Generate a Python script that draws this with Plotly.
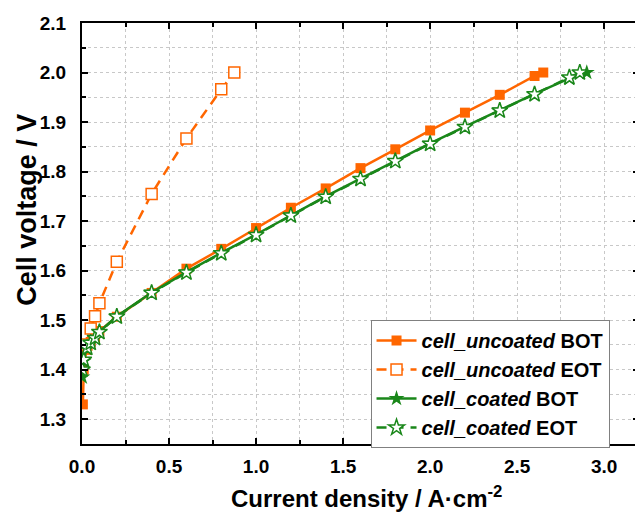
import plotly.graph_objects as go

# Data
unc_bot_x = [0.005, 0.01, 0.025, 0.05, 0.075, 0.1, 0.2, 0.4, 0.6, 0.8, 1.0, 1.2, 1.4, 1.6, 1.8, 2.0, 2.2, 2.4, 2.6, 2.65]
unc_bot_y = [1.33, 1.40, 1.44, 1.456, 1.466, 1.478, 1.507, 1.555, 1.604, 1.644, 1.686, 1.727, 1.766, 1.807, 1.845, 1.883, 1.919, 1.955, 1.993, 2.0]

unc_eot_x = [0.025, 0.05, 0.075, 0.1, 0.2, 0.4, 0.6, 0.8, 0.875]
unc_eot_y = [1.451, 1.483, 1.508, 1.534, 1.618, 1.755, 1.867, 1.966, 2.0]

coat_bot_x = [0.002, 0.01, 0.025, 0.05, 0.075, 0.1, 0.2, 0.4, 0.6, 0.8, 1.0, 1.2, 1.4, 1.6, 1.8, 2.0, 2.2, 2.4, 2.6, 2.8, 2.9]
coat_bot_y = [1.385, 1.417, 1.443, 1.455, 1.465, 1.477, 1.508, 1.556, 1.597, 1.636, 1.673, 1.712, 1.750, 1.786, 1.822, 1.857, 1.891, 1.924, 1.957, 1.988, 2.0]

coat_eot_x = [0.002, 0.01, 0.03, 0.05, 0.075, 0.1, 0.2, 0.4, 0.6, 0.8, 1.0, 1.2, 1.4, 1.6, 1.8, 2.0, 2.2, 2.4, 2.6, 2.8, 2.86]
coat_eot_y = [1.40, 1.42, 1.444, 1.454, 1.464, 1.476, 1.507, 1.555, 1.596, 1.635, 1.672, 1.711, 1.749, 1.785, 1.821, 1.856, 1.890, 1.923, 1.956, 1.990, 2.0]

x_ticks = [0, 0.5, 1.0, 1.5, 2.0, 2.5, 3.0]
y_ticks = [1.3, 1.4, 1.5, 1.6, 1.7, 1.8, 1.9, 2.0, 2.1]

ORANGE = "#FF6600"
GREEN = "#1A871A"
FONT = "Liberation Sans, Arial, sans-serif"

fig = go.Figure()
fig.add_trace(go.Scatter(
    x=unc_bot_x, y=unc_bot_y, mode="lines+markers",
    name="<b><i>cell_uncoated</i> BOT</b>",
    line=dict(color=ORANGE, width=2.5),
    marker=dict(symbol="square", size=10, color=ORANGE)))
fig.add_trace(go.Scatter(
    x=unc_eot_x, y=unc_eot_y, mode="lines+markers",
    name="<b><i>cell_uncoated</i> EOT</b>",
    line=dict(color=ORANGE, width=2.5, dash="10px,7px"),
    marker=dict(symbol="square", size=11, color="white",
                line=dict(color=ORANGE, width=1.5))))
fig.add_trace(go.Scatter(
    x=coat_bot_x, y=coat_bot_y, mode="lines+markers",
    name="<b><i>cell_coated</i> BOT</b>",
    line=dict(color=GREEN, width=2.5),
    marker=dict(symbol="star", size=12, color=GREEN)))
fig.add_trace(go.Scatter(
    x=coat_eot_x, y=coat_eot_y, mode="lines+markers",
    name="<b><i>cell_coated</i> EOT</b>",
    line=dict(color=GREEN, width=2.5, dash="10px,7px"),
    marker=dict(symbol="star", size=12, color="white",
                line=dict(color=GREEN, width=1.5))))

axis_common = dict(
    showline=True, linecolor="black", linewidth=2, mirror="ticks",
    ticks="inside", ticklen=6, tickwidth=2, tickcolor="black",
    showgrid=True, gridcolor="#C8C8C8", gridwidth=1, griddash="dot",
    zeroline=False,
    tickfont=dict(family=FONT, size=19, color="black"),
)

fig.update_xaxes(
    **axis_common, range=[0, 3.2], tickvals=x_ticks,
    ticktext=[f"<b>{v:.1f}</b>" for v in x_ticks],
    ticklabelstandoff=4,
    minor=dict(dtick=0.25, tick0=0, ticks="inside", ticklen=4, tickwidth=2,
               tickcolor="black", showgrid=True, gridcolor="#C8C8C8", griddash="dot"))
fig.update_yaxes(
    **axis_common, range=[1.25, 2.1], tickvals=y_ticks,
    ticktext=[f"<b>{v:.1f}</b>" for v in y_ticks],
    ticklabelstandoff=10,
    minor=dict(dtick=0.05, tick0=1.25, ticks="inside", ticklen=4, tickwidth=2,
               tickcolor="black", showgrid=True, gridcolor="#C8C8C8", griddash="dot"))

fig.add_annotation(
    text="<b>Current density / A·cm<sup>-2</sup></b>",
    xref="paper", yref="paper", x=0.510, y=-0.126,
    xanchor="center", yanchor="middle", showarrow=False,
    font=dict(family=FONT, size=24, color="black"))
fig.add_annotation(
    text="<b>Cell voltage / V</b>",
    xref="paper", yref="paper", x=-0.100, y=0.557,
    xanchor="center", yanchor="middle", showarrow=False, textangle=-90,
    font=dict(family=FONT, size=27, color="black"))

# The page body has an 8px default margin; size/margins compensate for it.
fig.update_layout(
    width=635, height=510,
    margin=dict(l=74, r=2, t=15, b=74),
    plot_bgcolor="white", paper_bgcolor="white",
    font=dict(family=FONT, color="black"),
    legend=dict(x=0.518, y=0.2945, xanchor="left", yanchor="top",
                bgcolor="white", bordercolor="#808080", borderwidth=1,
                font=dict(family=FONT, size=20, color="black"),
                tracegroupgap=0, itemwidth=40),
    showlegend=True,
)

fig.write_html("out.html")
